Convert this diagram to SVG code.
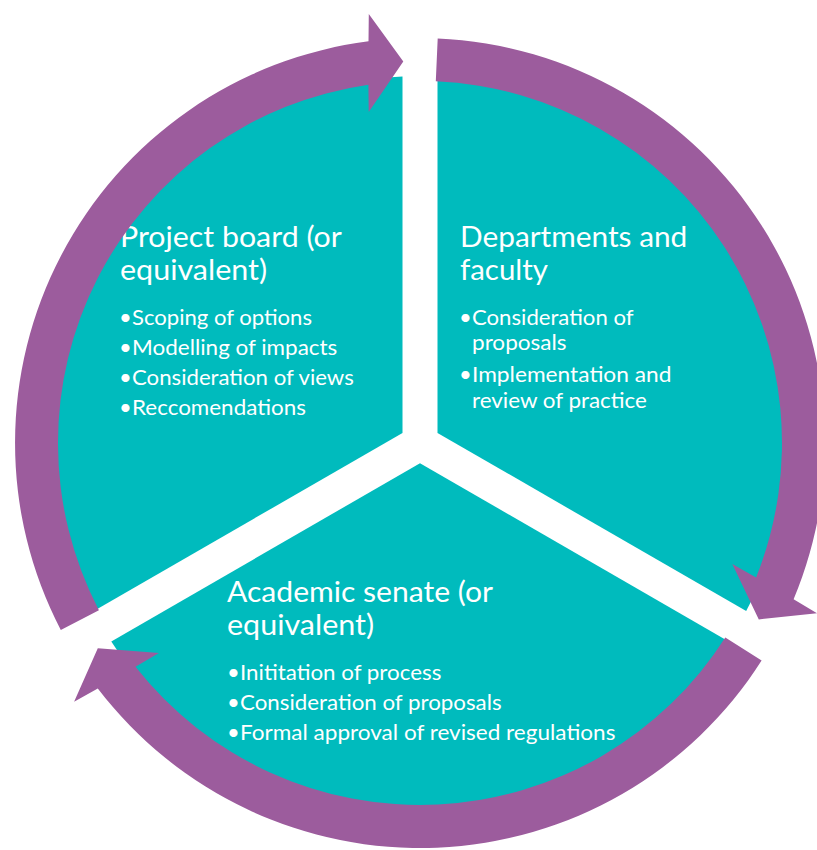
<svg xmlns="http://www.w3.org/2000/svg" width="817" height="850" viewBox="0 0 817 850">
<style>
.sector{fill:#00BBBD}
.arrow{fill:#9C5C9D}
text{font-family:Lato,"Open Sans","Liberation Sans",sans-serif;fill:#ffffff}
.t{font-size:29px}
.s{font-size:22px}
.b{font-size:22px}
</style>
<rect width="817" height="850" fill="#ffffff"/>
<g id="node-project-board">
<path class="sector" d="M 402.5 432.9 L 402.5 76.4 A 367 367 0 0 0 93.8 611.1 Z"/>
<text class="t" x="120" y="247" textLength="221.8" lengthAdjust="spacingAndGlyphs">Project board (or</text>
<text class="t" x="120" y="280" textLength="147.1" lengthAdjust="spacingAndGlyphs">equivalent)</text>
<text class="s" y="325"><tspan class="b" x="119">•</tspan><tspan x="132" textLength="180" lengthAdjust="spacingAndGlyphs">Scoping of options</tspan></text>
<text class="s" y="355"><tspan class="b" x="119">•</tspan><tspan x="132" textLength="205.3" lengthAdjust="spacingAndGlyphs">Modelling of impacts</tspan></text>
<text class="s" y="385"><tspan class="b" x="119">•</tspan><tspan x="132" textLength="221.8" lengthAdjust="spacingAndGlyphs">Consideration of views</tspan></text>
<text class="s" y="415"><tspan class="b" x="119">•</tspan><tspan x="132" textLength="173.9" lengthAdjust="spacingAndGlyphs">Reccomendations</tspan></text>
</g>
<g id="node-departments">
<path class="sector" d="M 437.5 432.9 L 437.5 76.4 A 367 367 0 0 1 746.2 611.1 Z"/>
<text class="t" x="460" y="247" textLength="227.3" lengthAdjust="spacingAndGlyphs">Departments and</text>
<text class="t" x="460" y="280" textLength="88" lengthAdjust="spacingAndGlyphs">faculty</text>
<text class="s" y="325"><tspan class="b" x="459">•</tspan><tspan x="472" textLength="161.5" lengthAdjust="spacingAndGlyphs">Consideration of</tspan></text>
<text class="s" x="472" y="350" textLength="94.6" lengthAdjust="spacingAndGlyphs">proposals</text>
<text class="s" y="382"><tspan class="b" x="459">•</tspan><tspan x="472" textLength="199.4" lengthAdjust="spacingAndGlyphs">Implementation and</tspan></text>
<text class="s" x="472" y="408" textLength="174.9" lengthAdjust="spacingAndGlyphs">review of practice</text>
</g>
<g id="node-academic-senate">
<path class="sector" d="M 420 463.2 L 728.7 641.5 A 367 367 0 0 1 111.3 641.5 Z"/>
<text class="t" x="227" y="602" textLength="266" lengthAdjust="spacingAndGlyphs">Academic senate (or</text>
<text class="t" x="227" y="635" textLength="147.1" lengthAdjust="spacingAndGlyphs">equivalent)</text>
<text class="s" y="680"><tspan class="b" x="227">•</tspan><tspan x="240" textLength="201.3" lengthAdjust="spacingAndGlyphs">Inititation of process</tspan></text>
<text class="s" y="710"><tspan class="b" x="227">•</tspan><tspan x="240" textLength="261.6" lengthAdjust="spacingAndGlyphs">Consideration of proposals</tspan></text>
<text class="s" y="740"><tspan class="b" x="227">•</tspan><tspan x="240" textLength="375.4" lengthAdjust="spacingAndGlyphs">Formal approval of revised regulations</tspan></text>
</g>
<g id="connectors">
<path class="arrow" d="M 60.8 630.0 A 405 405 0 0 1 368.5 41.3 L 368.8 14.0 L 403.3 61.4 L 368.7 111.9 L 368.4 84.7 A 362 362 0 0 0 98.9 610.2 Z"/>
<path class="arrow" d="M 437.7 38.4 A 405 405 0 0 1 793.6 599.3 L 817.1 613.2 L 758.8 619.4 L 732.3 564.1 L 756.1 577.4 A 362 362 0 0 0 435.8 81.3 Z"/>
<path class="arrow" d="M 761.6 660.6 A 405 405 0 0 1 97.8 688.4 L 74.1 701.7 L 97.8 648.3 L 158.9 652.9 L 135.5 666.8 A 362 362 0 0 0 725.3 637.5 Z"/>
</g>
</svg>
